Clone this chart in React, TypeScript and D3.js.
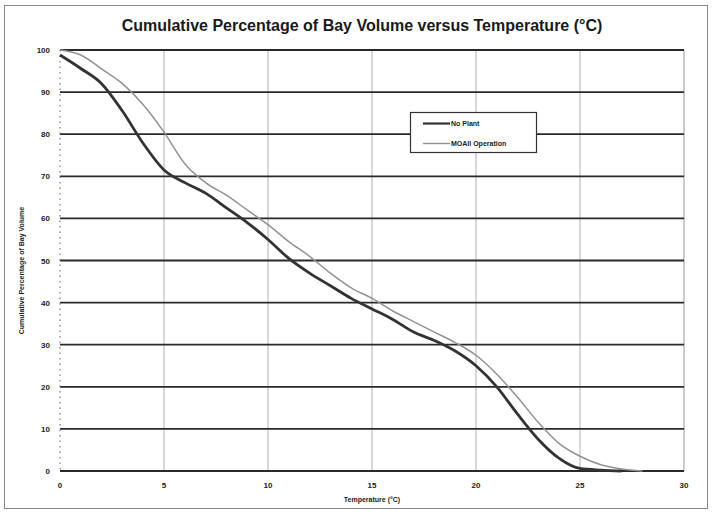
import React, { useRef, useEffect } from 'react';
import * as d3 from 'd3';

// temperature (°C) vs cumulative % of bay volume
const noPlantTemp = [0, 1, 2, 3, 4, 5, 6, 7, 8, 9, 10, 11, 12, 13, 14, 15, 16, 17, 18, 19, 20, 21, 22, 23, 24, 25, 26, 27];
const noPlantPct = [98.8, 95.6, 92, 85.5, 77.8, 71.5, 68.5, 66, 62.5, 59, 55, 50.5, 47, 44, 41, 38.5, 36, 33, 31, 28.5, 25, 20, 13.5, 7.5, 3, 0.6, 0.2, 0];

const moallTemp = [0, 1, 2, 3, 4, 5, 6, 7, 8, 9, 10, 11, 12, 13, 14, 15, 16, 17, 18, 19, 20, 21, 22, 23, 24, 25, 26, 27, 28];
const moallPct = [100, 98.8, 95.5, 92, 87, 80.5, 73, 68.5, 65.5, 62, 58.5, 54.5, 51, 47, 43.5, 41, 38, 35.5, 33, 30.5, 27.5, 23, 17.5, 11.5, 6.5, 3.5, 1.5, 0.5, 0];

const xTicks = [0, 5, 10, 15, 20, 25, 30];
const yTicks = [0, 10, 20, 30, 40, 50, 60, 70, 80, 90, 100];

const seriesNames = ['No Plant', 'MOAll Operation'];

const W = 713;
const H = 516;

const App = () => {
  const svgRef = useRef<SVGSVGElement>(null);

  useEffect(() => {
    if (!svgRef.current) return;
    const svg = d3.select(svgRef.current);
    svg.selectAll('*').remove();

    const font = 'Liberation Sans, Arial, sans-serif';
    const x = d3.scaleLinear().domain([0, 30]).range([60, 684]);
    const y = d3.scaleLinear().domain([0, 100]).range([471, 50]);

    svg.append('rect').attr('width', W).attr('height', H).attr('fill', '#fff');

    // outer frame
    svg.append('rect')
      .attr('x', 4.5).attr('y', 5.5).attr('width', 703).attr('height', 503)
      .attr('fill', 'none').attr('stroke', '#888').attr('stroke-width', 1);

    // title
    svg.append('text')
      .attr('x', 362).attr('y', 31)
      .attr('text-anchor', 'middle')
      .attr('font-family', font).attr('font-weight', 'bold').attr('font-size', 16)
      .attr('fill', '#1a1a1a')
      .text('Cumulative Percentage of Bay Volume versus Temperature (°C)');

    // vertical gridlines (light)
    svg.append('g').selectAll('line')
      .data(xTicks.filter(d => d > 0))
      .enter().append('line')
      .attr('x1', d => x(d)).attr('x2', d => x(d))
      .attr('y1', y(100)).attr('y2', y(0))
      .attr('stroke', d => (d === 30 ? '#999' : '#b0b0b0'))
      .attr('stroke-width', 1);

    // horizontal gridlines (heavy)
    svg.append('g').selectAll('line')
      .data(yTicks)
      .enter().append('line')
      .attr('x1', x(0)).attr('x2', x(30))
      .attr('y1', d => y(d)).attr('y2', d => y(d))
      .attr('stroke', '#2a2a2a')
      .attr('stroke-width', 1.8);

    // left axis (dotted look in the scan)
    svg.append('line')
      .attr('x1', x(0)).attr('x2', x(0))
      .attr('y1', y(100)).attr('y2', y(0))
      .attr('stroke', '#777').attr('stroke-width', 1.2)
      .attr('stroke-dasharray', '1.5,4');

    // tick labels
    svg.append('g').selectAll('text')
      .data(yTicks)
      .enter().append('text')
      .attr('x', 50).attr('y', d => y(d) + 3)
      .attr('text-anchor', 'end')
      .attr('font-family', font).attr('font-weight', 'bold').attr('font-size', 8)
      .attr('fill', '#222')
      .text(d => d);

    svg.append('g').selectAll('text')
      .data(xTicks)
      .enter().append('text')
      .attr('x', d => x(d)).attr('y', 488)
      .attr('text-anchor', 'middle')
      .attr('font-family', font).attr('font-weight', 'bold').attr('font-size', 8)
      .attr('fill', '#222')
      .text(d => d);

    // axis titles
    svg.append('text')
      .attr('x', 372).attr('y', 502)
      .attr('text-anchor', 'middle')
      .attr('font-family', font).attr('font-weight', 'bold').attr('font-size', 7)
      .attr('fill', '#222')
      .text('Temperature (°C)');

    svg.append('text')
      .attr('transform', `translate(24,${(y(0) + y(100)) / 2 + 10}) rotate(-90)`)
      .attr('text-anchor', 'middle')
      .attr('font-family', font).attr('font-weight', 'bold').attr('font-size', 7)
      .attr('fill', '#222')
      .text('Cumulative Percentage of Bay Volume');

    const line = d3.line<[number, number]>()
      .x(d => x(d[0]))
      .y(d => y(d[1]))
      .curve(d3.curveMonotoneX);

    const moall = moallTemp.map((t, i) => [t, moallPct[i]] as [number, number]);
    const noPlant = noPlantTemp.map((t, i) => [t, noPlantPct[i]] as [number, number]);

    svg.append('path')
      .attr('d', line(moall))
      .attr('fill', 'none').attr('stroke', '#929292').attr('stroke-width', 1.5);

    svg.append('path')
      .attr('d', line(noPlant))
      .attr('fill', 'none').attr('stroke', '#333').attr('stroke-width', 2.8);

    // legend
    const lg = svg.append('g');
    lg.append('rect')
      .attr('x', 410.5).attr('y', 112.5).attr('width', 126).attr('height', 40)
      .attr('fill', '#fff').attr('stroke', '#333').attr('stroke-width', 1.2);
    const styles = [
      { stroke: '#333', width: 2.2 },
      { stroke: '#929292', width: 1.4 },
    ];
    seriesNames.forEach((name, i) => {
      const ly = 123.5 + i * 20;
      lg.append('line')
        .attr('x1', 423).attr('x2', 450).attr('y1', ly).attr('y2', ly)
        .attr('stroke', styles[i].stroke).attr('stroke-width', styles[i].width);
      lg.append('text')
        .attr('x', 451).attr('y', ly + 2.5)
        .attr('font-family', font).attr('font-weight', 'bold').attr('font-size', 7)
        .attr('fill', '#222')
        .text(name);
    });
  }, []);

  return (
    <svg
      ref={svgRef}
      width={W}
      height={H}
      style={{ position: 'absolute', left: 0, top: 0, display: 'block' }}
    />
  );
};

export default App;
